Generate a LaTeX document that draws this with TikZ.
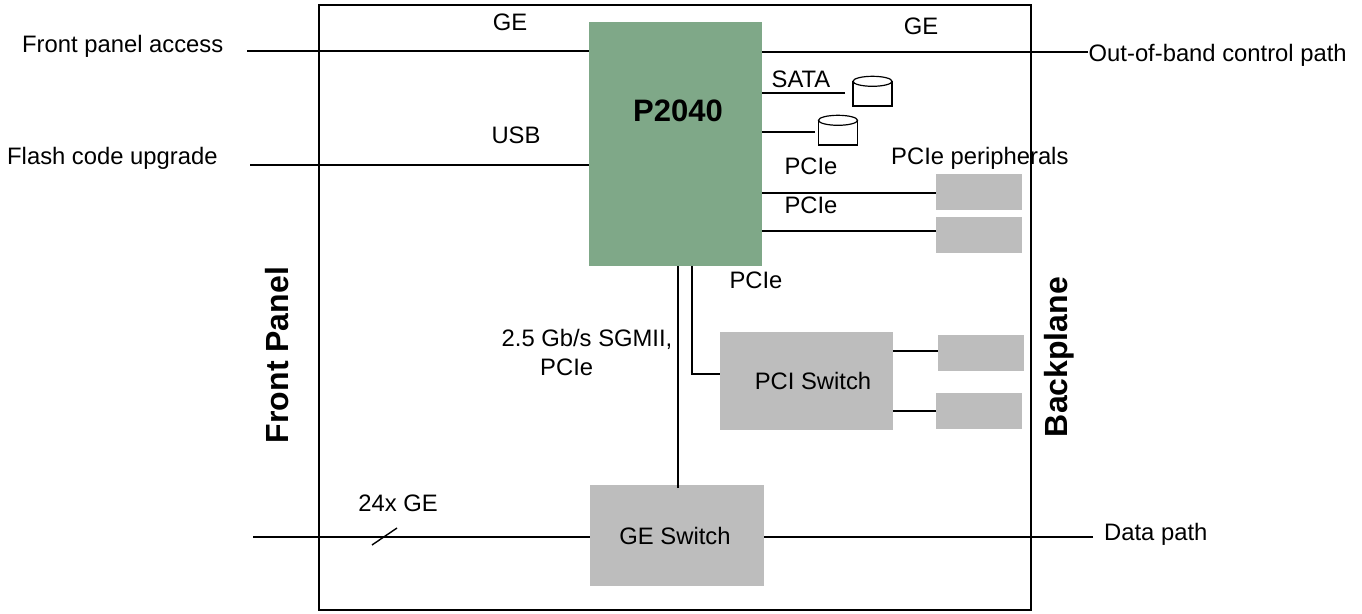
\documentclass[tikz,border=0pt]{standalone}
\usepackage{fontspec}
\setmainfont{Liberation Sans}
\usetikzlibrary{shapes.geometric}
\definecolor{chipgreen}{HTML}{7FA888}
\definecolor{boxgray}{HTML}{BDBDBD}
\tikzset{
  x=1pt,y=-1pt,
  wire/.style={line width=1.8pt,black},
  blockbox/.style={fill=boxgray,draw=none,inner sep=0pt,font=\fontsize{23.8}{28}\selectfont},
  periph/.style={fill=boxgray,draw=none,inner sep=0pt,minimum width=86pt,minimum height=36pt},
  lbl/.style={inner sep=0pt,font=\fontsize{23.8}{28}\selectfont,anchor=base},
  sidelbl/.style={inner sep=0pt,font=\fontsize{32}{38}\selectfont\bfseries,rotate=90},
  diskbody/.style={draw=black,line width=1.4pt,fill=white,inner sep=0pt,minimum width=39pt,minimum height=24pt},
  disktop/.style={ellipse,draw=black,line width=1.2pt,fill=white,inner sep=0pt,minimum width=39pt,minimum height=10pt},
}
\begin{document}
\begin{tikzpicture}
\useasboundingbox (0,0) rectangle (1362,613);
\node[draw=black,line width=2pt,minimum width=712pt,minimum height=605pt,inner sep=0pt] (chassis) at (675,307.5) {};
\node[fill=chipgreen,inner sep=0pt,minimum width=173pt,minimum height=244pt] (cpu) at (675.5,144) {};
\node[inner sep=0pt,font=\fontsize{31}{36}\selectfont\bfseries,anchor=base] (cpul) at (678,121) {P2040};
\node[blockbox,minimum width=174pt,minimum height=101pt] (ge) at (677,535.5) {\raisebox{-1pt}{\hspace{-4pt}GE Switch}};
\node[blockbox,minimum width=173pt,minimum height=98pt] (pci) at (806.5,381) {\hspace{13pt}\raisebox{-2pt}{PCI Switch}};
\node[periph] (p1) at (979,192) {};
\node[periph] (p2) at (979,235) {};
\node[periph] (p3) at (981,353) {};
\node[periph] (p4) at (979,411) {};
\node[diskbody] (d1) at (872.5,94) {};
\node[disktop] (d1top) at (d1.north) {};
\node[diskbody] (d2) at (838,133) {};
\node[disktop] (d2top) at (d2.north) {};
\coordinate (fp) at (247,51);
\coordinate (fl) at (250,165);
\coordinate (oob) at (1088,52);
\coordinate (sata) at (845,93);
\coordinate (pcd) at (815,132);
\coordinate (gel) at (253,537);
\coordinate (ger) at (1093,537);
\coordinate (s1) at (372,545);
\coordinate (s2) at (397,528);
\coordinate (pciv) at (692,374);
\coordinate (gev) at (678,488);
\draw[wire] (fp) -- (fp -| cpu.west);
\draw[wire] (fl) -- (fl -| cpu.west);
\draw[wire] (oob) -- (oob -| cpu.east);
\draw[wire] (sata) -- (sata -| cpu.east);
\draw[wire] (pcd) -- (pcd -| cpu.east);
\draw[wire] (p1.west |- 0,193) -- (cpu.east |- 0,193);
\draw[wire] (p2.west |- 0,231) -- (cpu.east |- 0,231);
\draw[wire] (cpu.south -| pciv) -- (pciv) -- (pciv -| pci.west);
\draw[wire] (cpu.south -| gev) -- (gev);
\draw[wire] (pci.east |- 0,351) -- (p3.west |- 0,351);
\draw[wire] (pci.east |- p4) -- (p4.west);
\draw[wire] (gel) -- (gel -| ge.west);
\draw[wire] (ger) -- (ger -| ge.east);
\draw[line width=1.4pt] (s1) -- (s2);
\node[lbl,anchor=base west] (t1) at (22,52) {Front panel access};
\node[lbl,anchor=base west] (t2) at (7,164) {Flash code upgrade};
\node[lbl,anchor=base west] (t3) at (1088.5,61) {Out-of-band control path};
\node[lbl,anchor=base west] (t4) at (1104,540) {Data path};
\node[lbl] (t5) at (510,30) {GE};
\node[lbl] (t6) at (921,34) {GE};
\node[lbl] (t7) at (516,143) {USB};
\node[lbl] (t8) at (801,87) {SATA};
\node[lbl] (t9) at (811,174) {PCIe};
\node[lbl,anchor=base west] (t10) at (891,164) {PCIe peripherals};
\node[lbl] (t11) at (811,213) {PCIe};
\node[lbl] (t12) at (756,288) {PCIe};
\node[lbl] (t13) at (587,346) {2.5 Gb/s SGMII,};
\node[lbl,anchor=base west] (t14) at (540,375) {PCIe};
\node[lbl] (t15) at (398,511) {24x GE};
\node[sidelbl] (fpl) at (277.5,355) {Front Panel};
\node[sidelbl] (bpl) at (1059,357) {Backplane};
\end{tikzpicture}
\end{document}
